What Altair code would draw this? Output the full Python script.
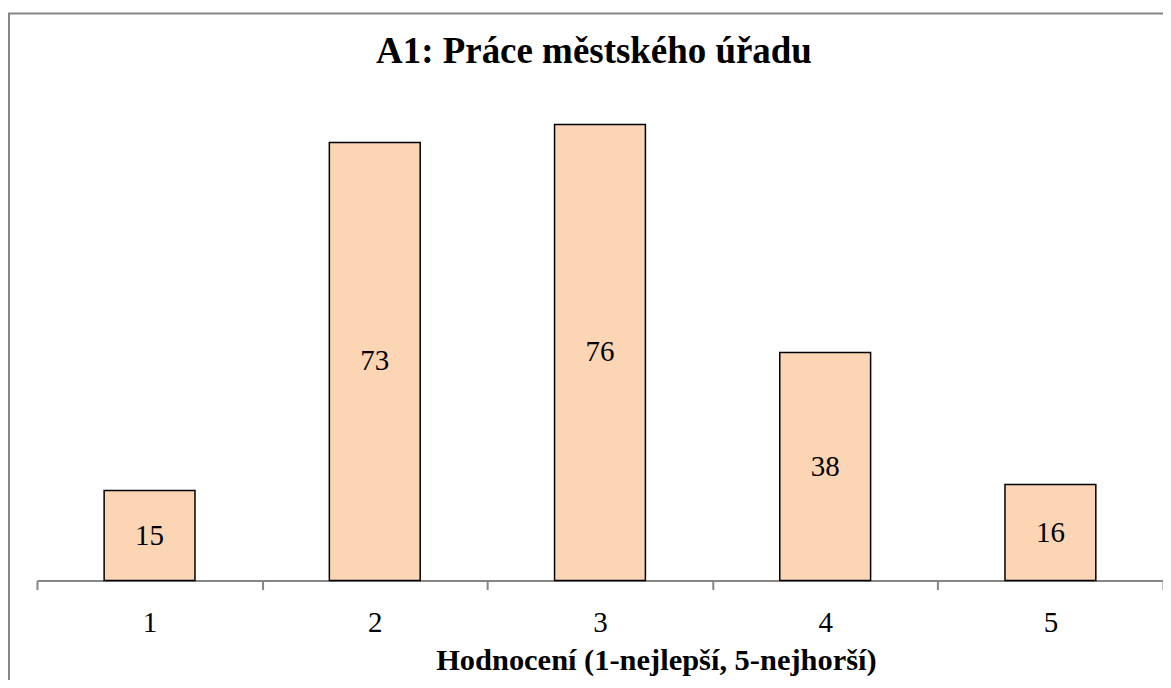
import altair as alt
import pandas as pd

categories = ["1", "2", "3", "4", "5"]
values = [15, 73, 76, 38, 16]

title_text = "A1: Práce městského úřadu"
x_title = "Hodnocení (1-nejlepší, 5-nejhorší)"

FONT = "Liberation Serif"
df = pd.DataFrame({"kat": categories, "pocet": values})

W, H = 1128, 481

base = alt.Chart(df).encode(
    x=alt.X("kat:N", sort=categories,
            scale=alt.Scale(paddingInner=0, paddingOuter=0),
            axis=alt.Axis(title=x_title, labelAngle=0, grid=False,
                          tickBand="extent",
                          domainColor="#868686", domainWidth=2,
                          tickColor="#868686", tickWidth=2, tickSize=9,
                          labelFont=FONT, labelFontSize=29, labelColor="black",
                          labelBaseline="alphabetic", labelPadding=42,
                          titleFont=FONT, titleFontSize=30.5, titleFontWeight="bold",
                          titleColor="black", titleX=620, titleY=89,
                          titleBaseline="alphabetic")),
)

bars = base.mark_bar(width=91, fill="#FCD5B5", stroke="black", strokeWidth=1.5).encode(
    y=alt.Y("pocet:Q", scale=alt.Scale(domain=[0, 80], nice=False), axis=None)
)

labels = base.transform_calculate(mid="datum.pocet / 2").mark_text(
    font=FONT, fontSize=29, color="black", baseline="middle", align="center"
).encode(
    y=alt.Y("mid:Q", scale=alt.Scale(domain=[0, 80], nice=False), axis=None),
    text="pocet:Q",
)

frame = alt.Chart(df).mark_rect(filled=False, stroke="#868686", strokeWidth=2).encode(
    x=alt.value(-28), x2=alt.value(W + 40), y=alt.value(-87), y2=alt.value(H + 150)
).transform_filter("datum.kat == '1'")

chart = alt.layer(frame, bars, labels).properties(
    width=W, height=H,
    title=alt.TitleParams(title_text, font=FONT, fontSize=37, fontWeight="bold",
                          color="black", anchor="middle", dx=-6,
                          baseline="alphabetic", offset=-88),
    padding={"left": 29, "top": 92, "right": 0, "bottom": 99},
    autosize=alt.AutoSizeParams(type="none"),
).configure_view(stroke=None)

chart.save("out.html", embed_options={"renderer": "svg", "actions": False})
